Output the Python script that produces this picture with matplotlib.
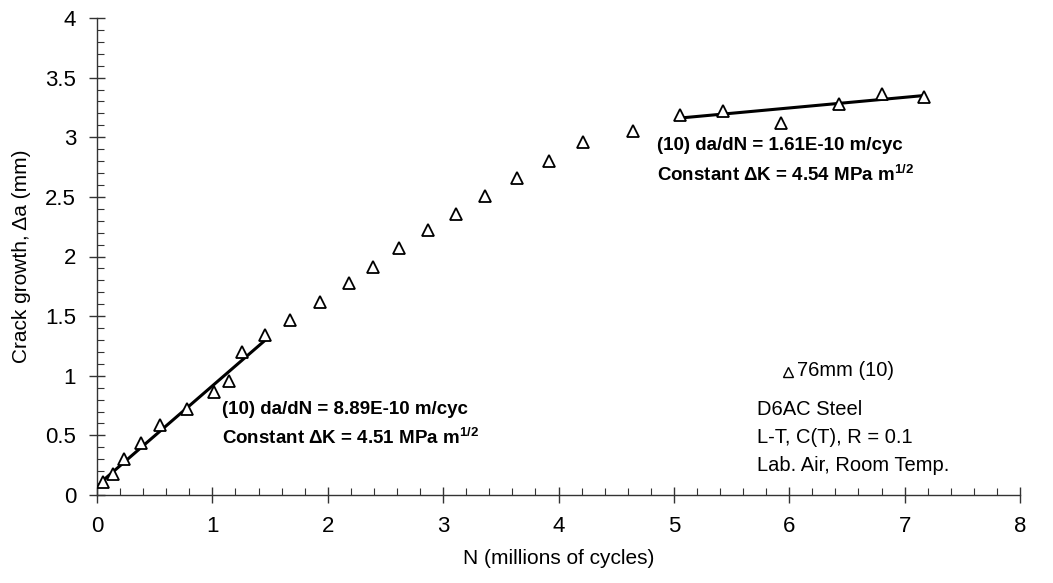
import matplotlib
matplotlib.use("Agg")
import matplotlib.pyplot as plt
from matplotlib.ticker import MultipleLocator

plt.rcParams['font.family'] = ['Liberation Sans', 'DejaVu Sans']
plt.rcParams['mathtext.fontset'] = 'custom'
plt.rcParams['mathtext.rm'] = 'Liberation Sans'
plt.rcParams['mathtext.bf'] = 'Liberation Sans:bold'

# Data (N in millions of cycles, crack growth in mm)
n_cycles = [0.05, 0.14, 0.23, 0.38, 0.55, 0.78, 1.01, 1.14, 1.26, 1.46,
            1.67, 1.93, 2.18, 2.39, 2.62, 2.87, 3.11, 3.36, 3.64, 3.92,
            4.21, 4.65, 5.05, 5.43, 5.93, 6.43, 6.80, 7.17]
crack = [0.11, 0.18, 0.30, 0.44, 0.59, 0.72, 0.86, 0.96, 1.20, 1.34,
         1.47, 1.62, 1.78, 1.91, 2.07, 2.22, 2.36, 2.51, 2.66, 2.80,
         2.96, 3.05, 3.19, 3.22, 3.12, 3.28, 3.36, 3.34]

fit1_x = [0.05, 1.46]
fit1_y = [0.12, 1.30]
fit2_x = [5.04, 7.17]
fit2_y = [3.16, 3.35]

x_ticks = [0, 1, 2, 3, 4, 5, 6, 7, 8]
x_labels = ['0', '1', '2', '3', '4', '5', '6', '7', '8']
y_ticks = [0, 0.5, 1, 1.5, 2, 2.5, 3, 3.5, 4]
y_labels = ['0', '0.5', '1', '1.5', '2', '2.5', '3', '3.5', '4']

fig = plt.figure(figsize=(10.53, 5.83), dpi=100)
ax = fig.add_axes([97/1053, 88/583, (1020-97)/1053, (495-18)/583])

ax.plot(n_cycles, crack, linestyle='none', marker='^', markersize=9,
        markerfacecolor='white', markeredgecolor='black', markeredgewidth=1.3, zorder=3)
ax.plot(fit1_x, fit1_y, color='black', linewidth=2.2, zorder=2)
ax.plot(fit2_x, fit2_y, color='black', linewidth=2.2, zorder=2)

ax.set_xticks(x_ticks)
ax.set_xticklabels(x_labels)
ax.set_yticks(y_ticks)
ax.set_yticklabels(y_labels)
ax.xaxis.set_minor_locator(MultipleLocator(0.2))
ax.yaxis.set_minor_locator(MultipleLocator(0.1))
ax.set_xlim(0, 8)
ax.set_ylim(0, 4)

for s in ['top', 'right']:
    ax.spines[s].set_visible(False)
for s in ['left', 'bottom']:
    ax.spines[s].set_linewidth(1.0)
    ax.spines[s].set_color('#333333')

ax.tick_params(which='major', direction='inout', length=12, width=1.0, labelsize=16, pad=9, color='#333333')
ax.tick_params(which='minor', direction='in', length=5, width=0.8, color='#333333')

ax.set_xlabel('N (millions of cycles)', fontsize=15, labelpad=9)
ax.set_ylabel('Crack growth, \u0394a (mm)', fontsize=15, labelpad=10)

fs_ann = 13.5
ax.text(1.08, 0.72, '(10) da/dN = 8.89E-10 m/cyc', fontsize=fs_ann, fontweight='bold', va='center', ha='left')
ax.text(1.08, 0.48, 'Constant \u0394K = 4.51 MPa m$^{\\mathbf{1/2}}$', fontsize=fs_ann, fontweight='bold', va='center', ha='left')
ax.text(4.85, 2.93, '(10) da/dN = 1.61E-10 m/cyc', fontsize=fs_ann, fontweight='bold', va='center', ha='left')
ax.text(4.85, 2.69, 'Constant \u0394K = 4.54 MPa m$^{\\mathbf{1/2}}$', fontsize=fs_ann, fontweight='bold', va='center', ha='left')

ax.plot([5.99], [1.03], linestyle='none', marker='^', markersize=7,
        markerfacecolor='white', markeredgecolor='black', markeredgewidth=1.0)
fs_leg = 14.5
ax.text(6.07, 1.04, '76mm (10)', fontsize=fs_leg, va='center', ha='left')
ax.text(5.72, 0.72, 'D6AC Steel', fontsize=fs_leg, va='center', ha='left')
ax.text(5.72, 0.48, 'L-T, C(T), R = 0.1', fontsize=fs_leg, va='center', ha='left')
ax.text(5.72, 0.25, 'Lab. Air, Room Temp.', fontsize=fs_leg, va='center', ha='left')

fig.savefig('out.png', dpi=100)
